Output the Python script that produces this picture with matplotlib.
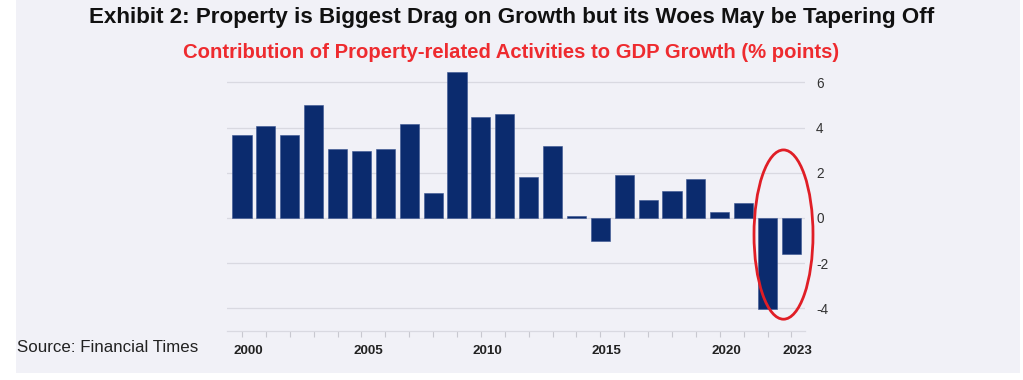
import numpy as np
import matplotlib
matplotlib.use('Agg')
import matplotlib.pyplot as plt
import matplotlib.transforms as mtransforms
from matplotlib.patches import Ellipse, Rectangle

# contribution of property-related activities to GDP growth (% points)
years = list(range(2000, 2024))
values = [3.68, 4.08, 3.68, 4.99, 3.07, 2.98, 3.07, 4.18, 1.08, 6.48,
          4.46, 4.59, 1.79, 3.18, 0.09, -1.02, 1.88, 0.77, 1.18, 1.70,
          0.28, 0.68, -4.02, -1.61]
tick_years = [2000, 2005, 2010, 2015, 2020, 2023]
y_ticks = [-4, -2, 0, 2, 4, 6]

title = 'Exhibit 2: Property is Biggest Drag on Growth but its Woes May be Tapering Off'
subtitle = 'Contribution of Property-related Activities to GDP Growth (% points)'
source = 'Source: Financial Times'

panel = '#f1f1f7'
navy = '#0b2b6e'
grid = '#d9d9e1'

plt.rcParams['font.family'] = ['Liberation Sans', 'DejaVu Sans']

fig = plt.figure(figsize=(10.23, 3.8), dpi=100)
fig.patch.set_facecolor('white')
fig.patches.append(Rectangle((16 / 1023, 7 / 380), 1004 / 1023, 1 - 7 / 380,
                             transform=fig.transFigure, facecolor=panel,
                             edgecolor='none', zorder=-10))

ax = fig.add_axes([227 / 1023, 0.1297, 578 / 1023, 0.689])
ax.set_facecolor(panel)
ax.bar(years, values, width=0.8, color=navy, edgecolor='#3a5590', linewidth=0.4, zorder=3)

ax.set_xlim(1999.37, 2023.57)
ax.set_ylim(-5, 6.6)

for s in ['top', 'left', 'right']:
    ax.spines[s].set_visible(False)
ax.spines['bottom'].set_color(grid)
ax.spines['bottom'].set_linewidth(0.9)

ax.set_yticks(y_ticks)
ax.set_yticklabels([str(v) for v in y_ticks])
ax.yaxis.tick_right()
ax.tick_params(axis='y', length=0, pad=8, labelsize=9.8, labelcolor='#333333')
ax.grid(axis='y', color=grid, linewidth=0.9, zorder=0)

ax.set_xticks(years)
ax.set_xticklabels([str(y) if y in tick_years else '' for y in years],
                   fontweight='bold')
ax.tick_params(axis='x', length=4, width=0.8, color='#c8c8d0', pad=6,
               labelsize=9.6, labelcolor='#222222')
# year labels sit a little right of their ticks in the original
shift = mtransforms.ScaledTranslation(6.5 / 100, 0, fig.dpi_scale_trans)
for lab in ax.get_xticklabels():
    lab.set_transform(lab.get_transform() + shift)

ell = Ellipse((2022.67, -0.74), 2.47, 7.5, angle=0, fill=False,
              edgecolor='#e01e26', linewidth=2, clip_on=False, zorder=5)
ax.add_patch(ell)

fig.text(0.5, 1 - 17 / 380, title, ha='center', va='center',
         fontsize=16.1, fontweight='bold', color='#111111')
fig.text(0.5, 1 - 53 / 380, subtitle, ha='center', va='center',
         fontsize=14.6, fontweight='bold', color='#ee2b2f')
fig.text(17 / 1023, 1 - 348 / 380, source, ha='left', va='center',
         fontsize=12.2, color='#222222')

fig.savefig('out.png', dpi=100, facecolor=fig.get_facecolor())
